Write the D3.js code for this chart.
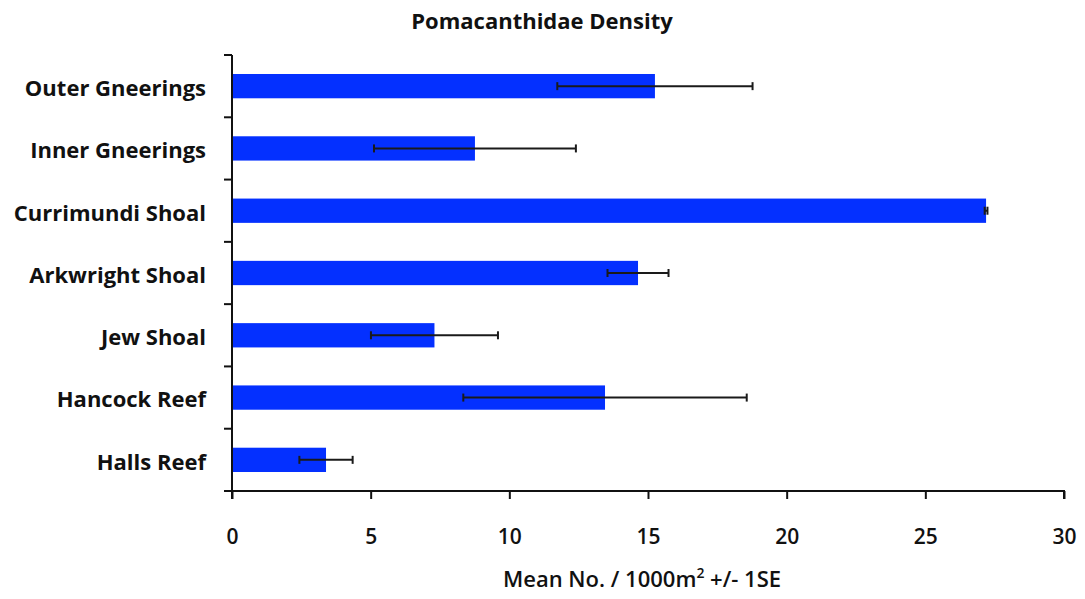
<!DOCTYPE html>
<html>
<head>
<meta charset="utf-8">
<script src="https://cdn.jsdelivr.net/npm/d3@7"></script>
<style>
  html, body { margin: 0; padding: 0; background: #fff; }
  svg text { font-family: "Open Sans", "Lato", sans-serif; fill: #111; }
</style>
</head>
<body>
<svg id="chart" width="1085" height="599"></svg>
<script>
// Pomacanthidae density by site: mean per 1000 m² with ±1 SE
const sites = ["Outer Gneerings", "Inner Gneerings", "Currimundi Shoal", "Arkwright Shoal", "Jew Shoal", "Hancock Reef", "Halls Reef"];
const means = [15.25, 8.76, 27.19, 14.64, 7.30, 13.45, 3.39];
const errors = [3.52, 3.64, 0.05, 1.10, 2.29, 5.11, 0.96];
const xTicks = [0, 5, 10, 15, 20, 25, 30];

const svg = d3.select("#chart");
const margin = { left: 232, right: 21, top: 55, bottom: 108 };
const W = 1085, H = 599;

const x = d3.scaleLinear().domain([0, 30]).range([margin.left, W - margin.right]);
const y = d3.scaleBand().domain(sites).range([margin.top, H - margin.bottom])
  .paddingInner(0.61).paddingOuter(0.305);
const yBoundary = d3.scaleBand().domain(sites).range([margin.top, H - margin.bottom]).padding(0);

// title
svg.append("text").attr("x", 542).attr("y", 29).attr("text-anchor", "middle")
  .style("font-size", "22px").style("font-weight", "bold").text("Pomacanthidae Density");

// bars
svg.append("g").selectAll("rect").data(sites).join("rect")
  .attr("x", x(0)).attr("y", d => y(d))
  .attr("width", (d, i) => x(means[i]) - x(0))
  .attr("height", y.bandwidth())
  .attr("fill", "#0430ff");

// error bars
const eb = svg.append("g").attr("stroke", "#1a1a1a").attr("stroke-width", 2);
sites.forEach((s, i) => {
  const cy = y(s) + y.bandwidth() / 2;
  const x0 = x(means[i] - errors[i]), x1 = x(means[i] + errors[i]);
  eb.append("line").attr("x1", x0).attr("x2", x1).attr("y1", cy).attr("y2", cy);
  eb.append("line").attr("x1", x0).attr("x2", x0).attr("y1", cy - 4).attr("y2", cy + 4);
  eb.append("line").attr("x1", x1).attr("x2", x1).attr("y1", cy - 4).attr("y2", cy + 4);
});

// y axis: line with ticks at category boundaries
const yAxisG = svg.append("g").attr("stroke", "#111").attr("stroke-width", 2);
yAxisG.append("line").attr("x1", x(0)).attr("x2", x(0))
  .attr("y1", margin.top).attr("y2", H - margin.bottom + 8);
const bounds = sites.map(s => yBoundary(s)).concat([H - margin.bottom]);
yAxisG.selectAll("line.tk").data(bounds).join("line").attr("class", "tk")
  .attr("x1", x(0) - 8).attr("x2", x(0)).attr("y1", d => d).attr("y2", d => d);

// category labels
svg.append("g").selectAll("text").data(sites).join("text")
  .attr("x", 206).attr("y", d => y(d) + y.bandwidth() / 2 + 2)
  .attr("dy", "0.36em").attr("text-anchor", "end")
  .style("font-size", "22px").style("font-weight", "bold").text(d => d);

// x axis
const xAxis = d3.axisBottom(x).tickValues(xTicks).tickSize(8).tickPadding(30).tickFormat(d3.format("d"));
const xg = svg.append("g").attr("transform", `translate(0,${H - margin.bottom})`).call(xAxis);
xg.select(".domain").attr("stroke", "#111").attr("stroke-width", 2).attr("d", `M${x(0) - 8},0H${x(30)}V8`);
xg.selectAll(".tick line").attr("stroke", "#111").attr("stroke-width", 2);
xg.selectAll(".tick text").style("font-size", "21px").style("font-weight", "600")
  .style("font-family", "'Open Sans', sans-serif").attr("fill", "#111");

// x axis title
const t = svg.append("text").attr("x", 642).attr("y", 587).attr("text-anchor", "middle")
  .style("font-size", "22px").style("font-weight", "600");
t.append("tspan").text("Mean No. / 1000m");
t.append("tspan").attr("dy", -9).style("font-size", "14px").text("2");
t.append("tspan").attr("dy", 9).text(" +/- 1SE");
</script>
</body>
</html>
